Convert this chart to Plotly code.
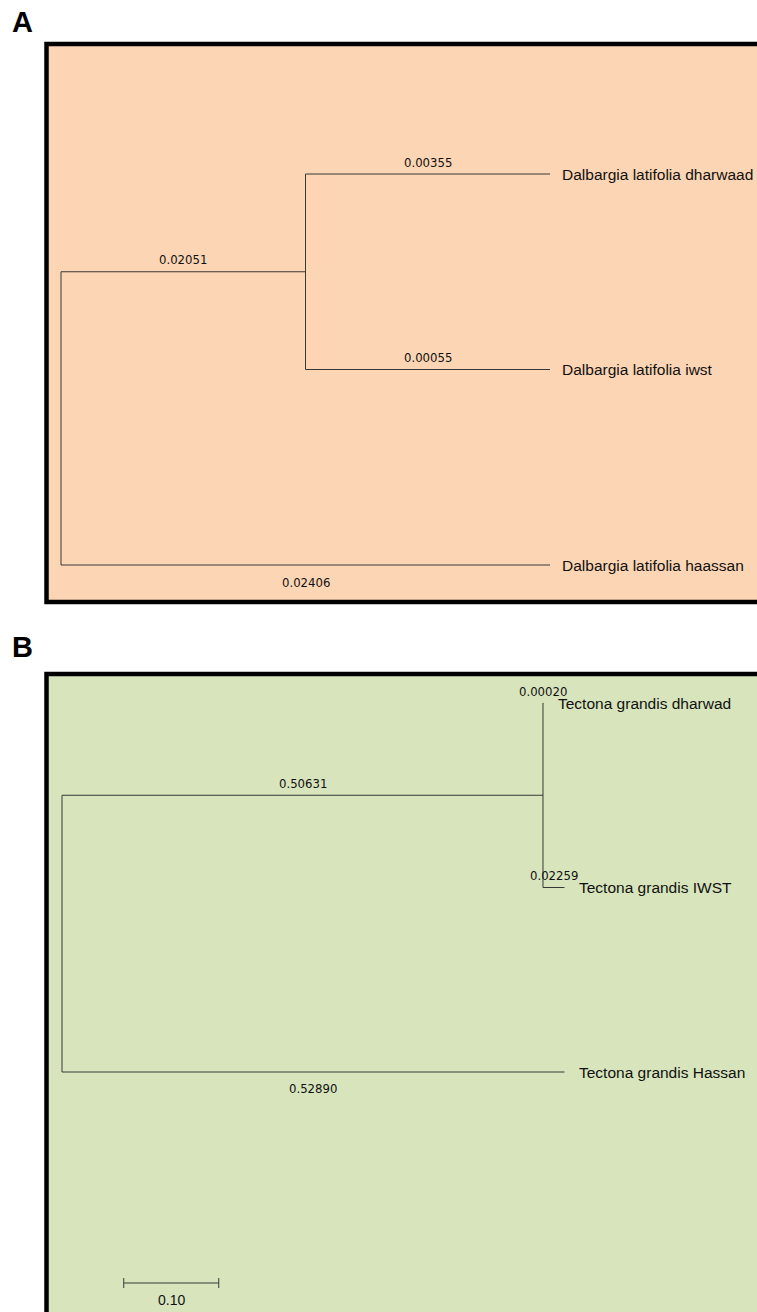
import plotly.graph_objects as go

# ---------------- data ----------------
taxa_A = ["Dalbargia latifolia dharwaad", "Dalbargia latifolia iwst", "Dalbargia latifolia haassan"]
branch_A = [0.00355, 0.00055, 0.02406]   # terminal branches
internal_A = 0.02051                      # branch to clade (t0,t1)

taxa_B = ["Tectona grandis dharwad", "Tectona grandis IWST", "Tectona grandis Hassan"]
branch_B = [0.00020, 0.02259, 0.52890]
internal_B = 0.50631
scale_B = 0.10

W, H = 757, 1312
LINE = dict(color="#383838", width=1)
NUM_FONT = dict(family="Liberation Sans Narrow, DejaVu Sans Condensed, Arial Narrow, sans-serif", size=13, color="#111111")
LEAF_FONT = dict(family="Liberation Sans, Arial, sans-serif", size=15.5, color="#111111")

fig = go.Figure()


def tree_coords(lengths, internal, proportional):
    """Topology ((t0,t1),t2). Returns node x positions and leaf y indices."""
    if proportional:
        x_int = internal
        x_leaf = [internal + lengths[0], internal + lengths[1], lengths[2]]
    else:  # cladogram: depth levels, leaves aligned
        x_int = 1.0
        x_leaf = [2.0, 2.0, 2.0]
    y_leaf = [0, 1, 2]
    y_int = (y_leaf[0] + y_leaf[1]) / 2
    return x_int, x_leaf, y_leaf, y_int


def draw_tree(xa, ya, taxa, lengths, internal, proportional, leaf_shift, below_shift):
    x_int, x_leaf, y_leaf, y_int = tree_coords(lengths, internal, proportional)
    xs, ys = [], []
    xs += [0, 0, None]; ys += [y_int, y_leaf[2], None]
    xs += [0, x_int, None]; ys += [y_int, y_int, None]
    xs += [x_int, x_int, None]; ys += [y_leaf[0], y_leaf[1], None]
    starts = [x_int, x_int, 0]
    for i in range(3):
        xs += [starts[i], x_leaf[i], None]; ys += [y_leaf[i], y_leaf[i], None]
    fig.add_trace(go.Scatter(x=xs, y=ys, mode="lines", line=LINE, hoverinfo="skip",
                             showlegend=False, xaxis=xa, yaxis=ya))
    ann = []
    segs = [(0, x_int, y_int, internal, 12)]
    for i in range(3):
        segs.append((starts[i], x_leaf[i], y_leaf[i], lengths[i], 12 if i < 2 else below_shift))
    for x0, x1, yy, val, ysh in segs:
        ann.append(dict(x=(x0 + x1) / 2, y=yy, xref=xa, yref=ya,
                        text=f"{val:.5f}", showarrow=False, font=NUM_FONT, yshift=ysh))
    for i in range(3):
        ann.append(dict(x=x_leaf[i], y=y_leaf[i], xref=xa, yref=ya,
                        text=taxa[i], showarrow=False, font=LEAF_FONT, xanchor="left", xshift=leaf_shift))
    return ann


annotations = []
annotations += draw_tree("x", "y", taxa_A, branch_A, internal_A, False, 10, -17)
annotations += draw_tree("x2", "y2", taxa_B, branch_B, internal_B, True, 13, -16)

# scale bar (panel B)
pxB = 950.0
dyB = 184.5
sb_x0 = 0.065
sb_y = (1283 - 703) / dyB
tick = 5 / dyB
fig.add_trace(go.Scatter(
    x=[sb_x0, sb_x0 + scale_B, None, sb_x0, sb_x0, None, sb_x0 + scale_B, sb_x0 + scale_B],
    y=[sb_y, sb_y, None, sb_y - tick, sb_y + tick, None, sb_y - tick, sb_y + tick],
    mode="lines", line=LINE, hoverinfo="skip", showlegend=False, xaxis="x2", yaxis="y2"))
annotations.append(dict(x=sb_x0 + scale_B / 2, y=sb_y, xref="x2", yref="y2", text=f"{scale_B:.2f}",
                        showarrow=False, font=dict(family="Liberation Sans, Arial, sans-serif", size=14, color="#111111"),
                        yshift=-17))

# panel letters
for letter, py in [("A", 22), ("B", 647)]:
    annotations.append(dict(x=10 / W, y=1 - py / H, xref="paper", yref="paper", text=f"<b>{letter}</b>",
                            showarrow=False, xanchor="left", yanchor="middle",
                            font=dict(family="Liberation Sans, Arial, sans-serif", size=29, color="black")))

shapes = [
    dict(type="rect", xref="paper", yref="paper", x0=46.5 / W, x1=1.05, y0=1 - 602 / H, y1=1 - 44 / H,
         fillcolor="#FCD5B4", line=dict(color="black", width=4.5), layer="below"),
    dict(type="rect", xref="paper", yref="paper", x0=46.5 / W, x1=1.05, y0=-0.05, y1=1 - 674 / H,
         fillcolor="#D7E4BC", line=dict(color="black", width=4.5), layer="below"),
]

pxA, x0A = 244.5, 61
dyA, y0A = 195.5, 174
x0B, y0B = 62, 703
hidden = dict(visible=False, showgrid=False, zeroline=False, fixedrange=True)
fig.update_layout(
    width=W, height=H, margin=dict(l=0, r=0, t=0, b=0),
    paper_bgcolor="white", plot_bgcolor="rgba(0,0,0,0)",
    xaxis=dict(domain=[0, 1], range=[-x0A / pxA, (W - x0A) / pxA], **hidden),
    yaxis=dict(domain=[0, 1], range=[(H - y0A) / dyA, -y0A / dyA], **hidden),
    xaxis2=dict(domain=[0, 1], range=[-x0B / pxB, (W - x0B) / pxB], anchor="y2", overlaying="x", **hidden),
    yaxis2=dict(domain=[0, 1], range=[(H - y0B) / dyB, -y0B / dyB], anchor="x2", overlaying="y", **hidden),
    shapes=shapes, annotations=annotations,
)

fig.write_html("out.html", config={"displayModeBar": False},
               post_script="document.body.style.margin='0';document.body.style.overflow='hidden';")
